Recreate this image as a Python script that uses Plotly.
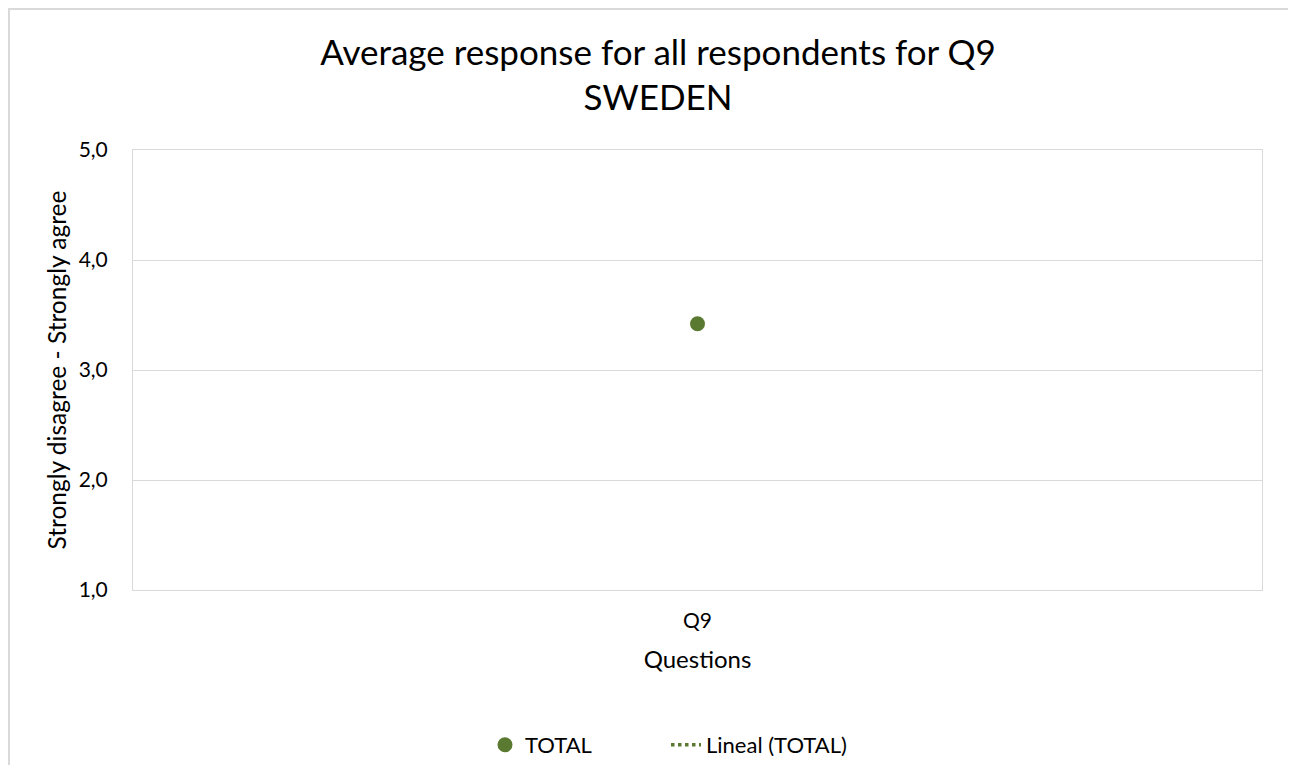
import plotly.graph_objects as go

categories = ["Q9"]
total_values = [3.42]
y_ticks = [1.0, 2.0, 3.0, 4.0, 5.0]

# page body has an 8px margin; figure coordinates are page - 8
W, H = 1288, 757
L, R, T, B = 125, 1254, 142, 582
pw, ph = R - L, B - T

def px_x(x):
    return (x - L) / pw

def px_y(y):
    return (B - y) / ph

green = "#5B7A31"
grid = "#D9D9D9"
font = "Lato, 'Open Sans', sans-serif"

fig = go.Figure()
fig.add_trace(go.Scatter(
    x=categories, y=total_values, mode="markers", name="TOTAL",
    marker=dict(color=green, size=15), legend="legend",
))
fig.add_trace(go.Scatter(
    x=[None], y=[None], mode="lines", name="Lineal (TOTAL)",
    line=dict(color=green, width=3.5, dash="dot"), legend="legend2",
))

legend_common = dict(
    orientation="h", xref="container", yref="container",
    xanchor="left", y=1 - 737 / H, yanchor="middle",
    font=dict(size=22, family=font), bgcolor="rgba(0,0,0,0)",
)

fig.update_layout(
    width=W, height=H,
    margin=dict(l=L, r=W - R, t=T, b=H - B),
    paper_bgcolor="white", plot_bgcolor="white",
    separators=",.",
    font=dict(family=font, color="#000000"),
    title=dict(
        text="Average response for all respondents for Q9<br>SWEDEN",
        x=px_x(650), xanchor="center", y=1 - 56.5 / H, yanchor="middle",
        xref="paper",
        font=dict(size=35, family=font, color="#000000"),
    ),
    showlegend=True,
    legend=dict(x=477 / W, **legend_common),
    legend2=dict(x=658 / W, **legend_common),
    xaxis=dict(
        type="category", range=[-0.5, 0.5],
        showgrid=False, showline=True, linecolor=grid, linewidth=1, mirror=True,
        ticks="", ticklabelstandoff=12, tickfont=dict(size=21, family=font),
        title=dict(text="Questions", font=dict(size=24, family=font), standoff=19),
        fixedrange=True,
    ),
    yaxis=dict(
        range=[1, 5], tickvals=y_ticks, tickformat=".1f",
        showgrid=True, gridcolor=grid, gridwidth=1,
        showline=True, linecolor=grid, linewidth=1, mirror=True,
        zeroline=False, ticks="", ticklabelstandoff=20,
        tickfont=dict(size=21, family=font),
        title=dict(text="Strongly disagree - Strongly agree",
                   font=dict(size=24.5, family=font), standoff=5),
        fixedrange=True,
    ),
)

# outer chart border
fig.add_shape(
    type="rect", xref="paper", yref="paper",
    x0=px_x(1), x1=px_x(1282), y0=px_y(800), y1=px_y(1),
    line=dict(color=grid, width=2), fillcolor="rgba(0,0,0,0)", layer="below",
)

fig.write_html("out.html")
